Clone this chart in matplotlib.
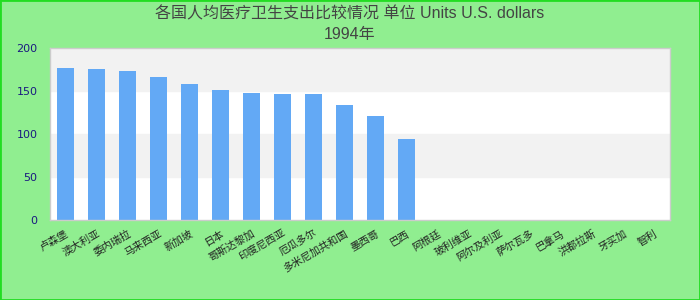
import numpy as np
import matplotlib
matplotlib.use("Agg")
import matplotlib.pyplot as plt
from matplotlib.patches import Rectangle

plt.rcParams['font.family'] = ['Noto Sans CJK SC', 'DejaVu Sans']

categories = ["卢森堡", "澳大利亚", "委内瑞拉", "马来西亚", "新加坡", "日本",
              "哥斯达黎加", "印度尼西亚", "厄瓜多尔", "多米尼加共和国", "墨西哥", "巴西",
              "阿根廷", "玻利维亚", "阿尔及利亚", "萨尔瓦多", "巴拿马", "洪都拉斯",
              "牙买加", "智利"]
values = [176.5, 175.5, 173, 166.5, 158.5, 151, 148, 147, 147, 134, 121, 94,
          np.nan, np.nan, np.nan, np.nan, np.nan, np.nan, np.nan, np.nan]
yticks = [0, 50, 100, 150, 200]
title = "各国人均医疗卫生支出比较情况 单位 Units U.S. dollars\n1994年"

fig = plt.figure(figsize=(7, 3), dpi=100, facecolor='#90EE90')
fig.patches.append(Rectangle((0, 0), 1, 1, transform=fig.transFigure,
                             fill=False, edgecolor='#22dd22', linewidth=2))
ax = fig.add_axes([50/700, 1 - 220/300, 620/700, 172/300])
ax.set_facecolor('white')

x = np.arange(len(categories))
ax.axhspan(50, 100, color='#f2f2f2', zorder=0)
ax.axhspan(150, 200, color='#f2f2f2', zorder=0)
ax.bar(x, values, width=0.55, color='#63a9f5', zorder=2)

ax.set_xlim(-0.5, len(categories) - 0.5)
ax.set_ylim(0, 200)
ax.set_yticks(yticks)
ax.set_yticklabels([str(v) for v in yticks], family='DejaVu Sans')
ax.tick_params(axis='y', length=0, labelsize=8, labelcolor='#1a1a80', pad=9)
ax.set_xticks(x)
ax.set_xticklabels(categories, rotation=30, ha='right', rotation_mode='anchor',
                   fontsize=7.5, color='#222222')
ax.tick_params(axis='x', length=0, pad=6)
for s in ax.spines.values():
    s.set_color('#cccccc')
    s.set_linewidth(1)

fig.text(0.5, 1 - 6/300, title, ha='center', va='top', fontsize=11.5,
         color='#444444', linespacing=1.5,
         family=['Liberation Sans', 'Noto Sans CJK SC'])

fig.savefig('out.png', dpi=100, facecolor=fig.get_facecolor())
